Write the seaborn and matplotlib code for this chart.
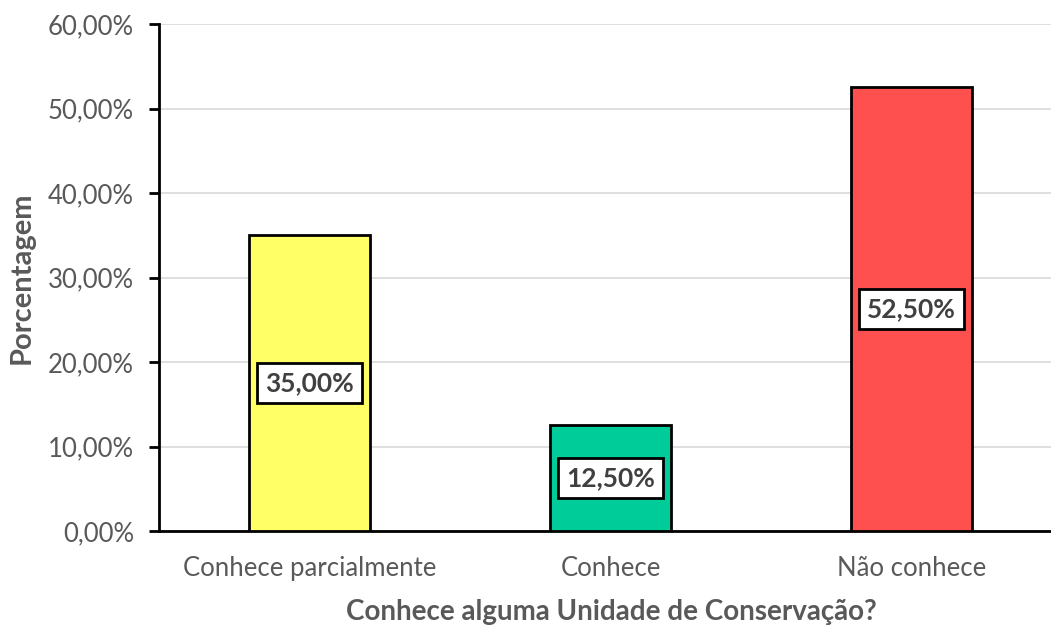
import matplotlib
matplotlib.use("Agg")
import matplotlib.pyplot as plt
import seaborn as sns
import pandas as pd
from matplotlib.ticker import FuncFormatter

categories = ["Conhece parcialmente", "Conhece", "Não conhece"]
values = [35.0, 12.5, 52.5]
colors = ["#FFFF66", "#00CC99", "#FF5050"]

sns.set_theme(style="white")
plt.rcParams["font.family"] = ["Lato", "DejaVu Sans"]

df = pd.DataFrame({"categoria": categories, "valor": values})

fig = plt.figure(figsize=(10.51, 6.27), dpi=100)
ax = fig.add_axes([159 / 1051, 96 / 627, 903 / 1051, 507 / 627])

sns.barplot(data=df, x="categoria", y="valor", hue="categoria",
            palette=colors, saturation=1, legend=False, width=0.405,
            edgecolor="black", linewidth=2, ax=ax, zorder=3)

ax.set_xlim(-0.5, 2.5)
ax.set_ylim(0, 60)
ax.set_yticks(range(0, 61, 10))
ax.yaxis.set_major_formatter(FuncFormatter(lambda v, p: f"{v:.2f}%".replace(".", ",")))
ax.grid(axis="y", color="#d9d9d9", linewidth=1.2, zorder=0)
ax.grid(axis="x", visible=False)

for s in ["top", "right"]:
    ax.spines[s].set_visible(False)
ax.spines["left"].set_color("black")
ax.spines["left"].set_linewidth(2)
ax.spines["bottom"].set_color("black")
ax.spines["bottom"].set_linewidth(2)

ax.tick_params(axis="y", which="major", left=True, length=7, width=2,
               color="black", labelsize=18.5, labelcolor="#595959", pad=11)
ax.tick_params(axis="x", bottom=False, labelsize=18.5, labelcolor="#595959", pad=12)

ax.set_ylabel("Porcentagem", fontsize=21, fontweight="bold", color="#595959")
ax.set_xlabel("Conhece alguma Unidade de Conservação?", fontsize=20,
              fontweight="bold", color="#595959")
ax.yaxis.set_label_coords((22 - 159) / 903, 0.5)
ax.xaxis.set_label_coords((611 - 159) / 903, -(612 - 531) / 507)
ax.yaxis.label.set_va("center")
ax.xaxis.label.set_va("center")

for i, v in enumerate(values):
    ax.text(i, v / 2, f"{v:.2f}%".replace(".", ","), ha="center", va="center",
            fontsize=19, fontweight="bold", color="#404040", zorder=5,
            bbox=dict(boxstyle="square,pad=0.3", facecolor="white",
                      edgecolor="black", linewidth=2))

fig.savefig("out.png", dpi=100)
